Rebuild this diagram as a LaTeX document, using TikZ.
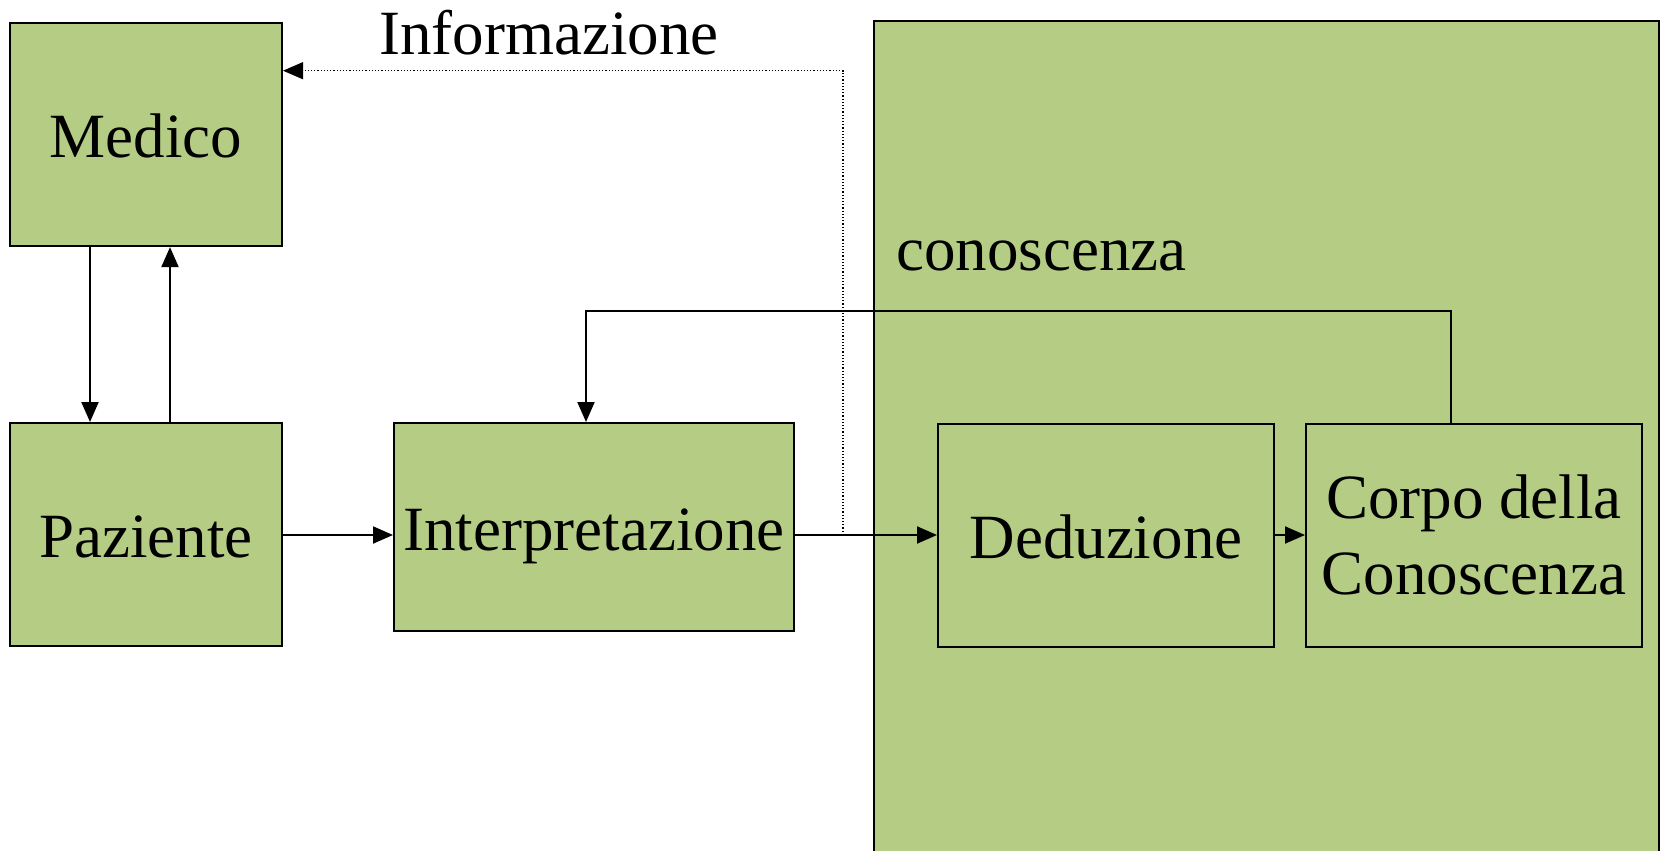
\documentclass[tikz,border=0pt]{standalone}
\usepackage{fontspec}
\setmainfont{Liberation Serif}
\usetikzlibrary{arrows.meta}
\definecolor{boxgreen}{RGB}{181,204,133}
\begin{document}
\begin{tikzpicture}[x=1pt,y=-1pt,
  box/.style={draw=black,line width=2pt,fill=boxgreen,inner sep=0pt,
    font=\fontsize{63}{76}\selectfont,align=center},
  onebox/.style={box,text height=46pt,text depth=0pt},
  conn/.style={line width=2pt,-{Triangle[length=20pt,width=17pt]}},
  infoline/.style={line width=1.2pt,dotted,-{Triangle[length=20pt,width=17pt]}},
  lbl/.style={inner sep=0pt,font=\fontsize{63}{76}\selectfont}]
\useasboundingbox (0,0) rectangle (1662,851);
% knowledge area
\fill[boxgreen] (874,21) rectangle (1659,851);
\draw[line width=2pt] (874,851) -- (874,21) -- (1659,21) -- (1659,851);
\node[lbl,anchor=base west] (conlbl) at (896,270) {conoscenza};
% boxes
\node[onebox,minimum width=272pt,minimum height=223pt] (medico) at (146,134.6) {Medico};
\node[onebox,minimum width=272pt,minimum height=223pt] (paziente) at (146,534.5) {Paziente};
\node[onebox,minimum width=400pt,minimum height=208pt] (interp) at (594,527) {Interpretazione};
\node[onebox,minimum width=336pt,minimum height=223pt] (dedu) at (1106,535) {Deduzione};
\node[box,minimum width=336pt,minimum height=223pt] (corpo) at (1474,535) {Corpo della\\Conoscenza};
\node[lbl,anchor=base west] (infolbl) at (379,55) {Informazione};
% coordinates
\coordinate (mdown) at (90,0);
\coordinate (mup) at (170,0);
\coordinate (fbA) at (1451,310.7);
\coordinate (fbB) at (586,310.7);
\coordinate (dotS) at (843,535);
\coordinate (dotT) at (843,70.7);
% connectors
\draw[conn] (medico.south -| mdown) -- (paziente.north -| mdown);
\draw[conn] (paziente.north -| mup) -- (medico.south -| mup);
\draw[conn] (paziente.east |- 0,535) -- (interp.west |- 0,535);
\draw[conn] (interp.east |- 0,535) -- (dedu.west |- 0,535);
\draw[conn] (dedu.east) -- (corpo.west);
\draw[line width=2pt,-{Triangle[length=20pt,width=17pt]}] (corpo.north -| fbA) -- (fbA) -- (fbB) -- (interp.north -| fbB);
\draw[infoline] (dotS) -- (dotT) -- (medico.east |- dotT);
\end{tikzpicture}
\end{document}
